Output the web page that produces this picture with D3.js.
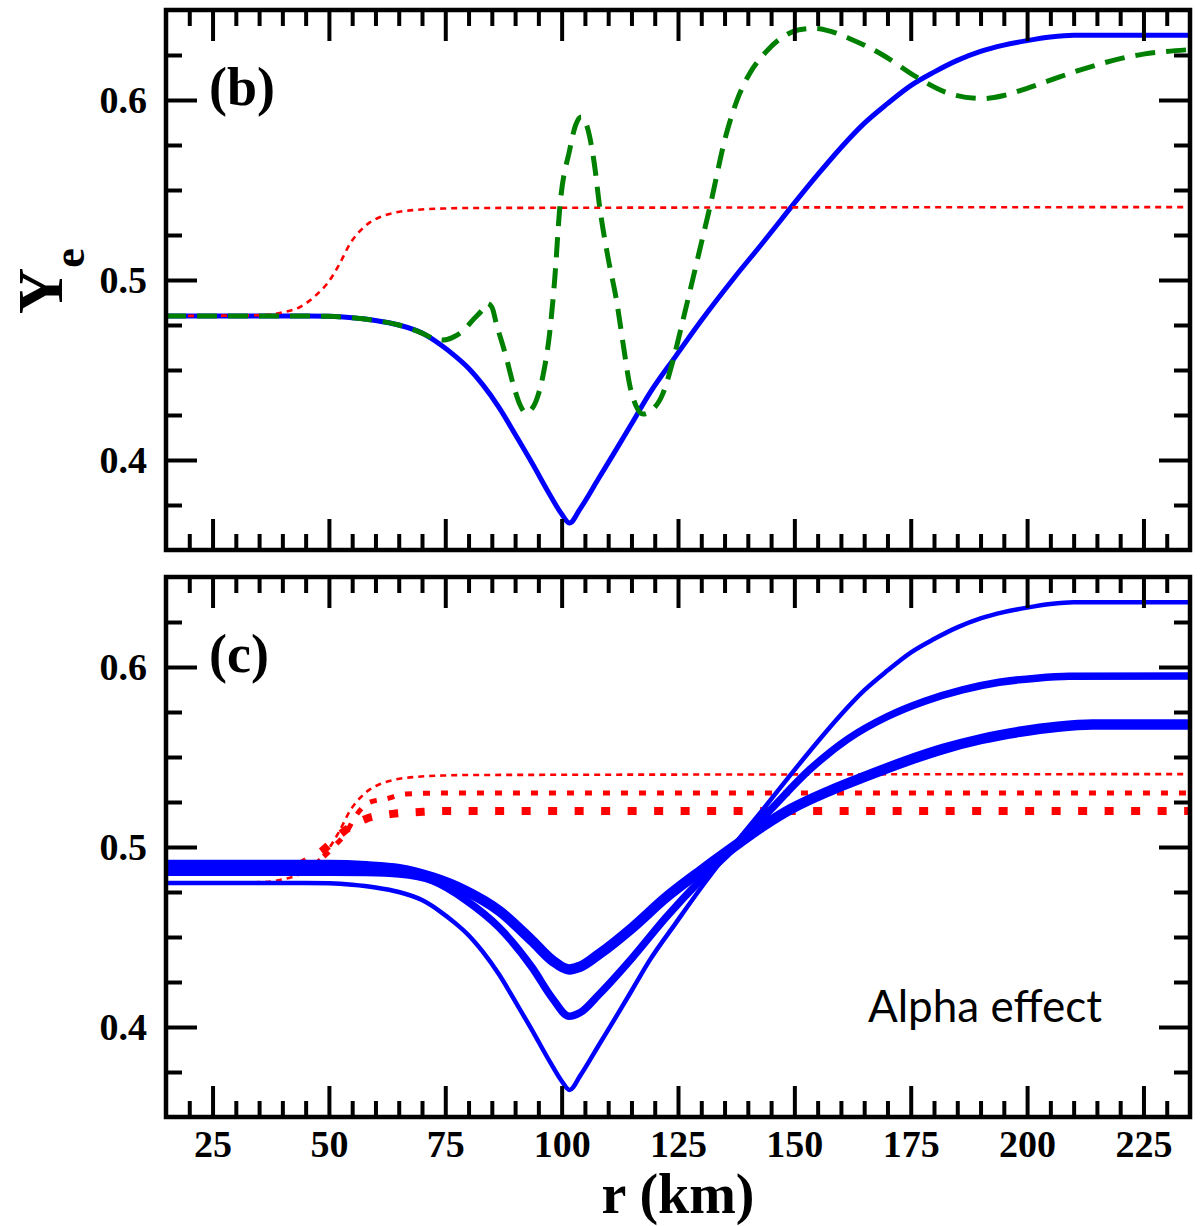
<!DOCTYPE html>
<html>
<head>
<meta charset="utf-8">
<script src="https://cdn.jsdelivr.net/npm/d3@7"></script>
<style>
  html, body { margin: 0; padding: 0; background: #fff; }
  svg { display: block; }
</style>
</head>
<body>
<svg id="chart" width="1201" height="1226"></svg>
<script>
// ---- data: electron fraction Ye versus radius r (km) ----
const rMajorTicks = [25, 50, 75, 100, 125, 150, 175, 200, 225];
const rMinorTicks = [20, 30, 35, 40, 45, 55, 60, 65, 70, 80, 85, 90, 95, 105, 110, 115, 120,
                     130, 135, 140, 145, 155, 160, 165, 170, 180, 185, 190, 195, 205, 210, 215, 220, 230];
const yeMajorTicks = [0.4, 0.5, 0.6];
const yeMinorTicks = [0.375, 0.425, 0.45, 0.475, 0.525, 0.55, 0.575, 0.625];

// solid blue curve (panel b, thinnest curve of panel c)
const yeSolid = [
  [15, 0.480], [45, 0.480], [50, 0.4798], [55, 0.4790], [60, 0.4775], [65, 0.4750], [70, 0.4705],
  [74, 0.4640], [77, 0.4580], [80, 0.4510], [83, 0.4420], [86.6, 0.4290], [90.3, 0.4130],
  [93.7, 0.3980], [97.4, 0.3810], [100, 0.3700], [101.7, 0.3650], [104, 0.3730], [108, 0.3900],
  [112, 0.4070], [115, 0.4200], [118.9, 0.4370], [124.6, 0.4580], [130, 0.4775], [137, 0.5010],
  [143, 0.5200], [149, 0.5395], [155, 0.5585], [160, 0.5735], [165, 0.5870], [170, 0.5980],
  [175, 0.6080], [180, 0.6155], [185, 0.6220], [190, 0.6270], [195, 0.6305], [200, 0.6330],
  [205, 0.6350], [210, 0.6360], [235, 0.6360]
];

// green dashed curve (panel b)
const yeDashed = [
  [15, 0.480], [45, 0.480], [50, 0.4798], [55, 0.4790], [60, 0.4775], [65, 0.4750], [70, 0.4705],
  [72.5, 0.4675], [74.5, 0.4666], [76.5, 0.4680], [78.8, 0.4717], [81, 0.4780], [83.1, 0.4838],
  [84, 0.4870], [85, 0.4850], [86, 0.4755], [88.1, 0.4570], [89.6, 0.4420], [91, 0.4310],
  [92.4, 0.4260], [93.5, 0.4280], [94.5, 0.4327], [96, 0.4470], [97.4, 0.4700], [98.5, 0.5000],
  [99.6, 0.5400], [101.7, 0.5720], [103, 0.5860], [104.2, 0.5906], [105.5, 0.5850], [107, 0.5650],
  [108.2, 0.5400], [110, 0.5120], [111.8, 0.4885], [113.3, 0.4630], [114.6, 0.4420], [116, 0.4300],
  [117.5, 0.4255], [119, 0.4270], [121.7, 0.4366], [124, 0.4560], [126, 0.4770], [129.6, 0.5160],
  [131.8, 0.5400], [135.4, 0.5813], [138, 0.6020], [140.4, 0.6147], [144, 0.6270], [147.5, 0.6350],
  [151, 0.6390], [154.7, 0.6398], [158, 0.6380], [161.8, 0.6342], [169, 0.6250], [176.2, 0.6128],
  [183.3, 0.6036], [190.5, 0.6008], [195, 0.6025], [200, 0.6065], [205, 0.6110], [210, 0.6155],
  [215, 0.6195], [220, 0.6230], [225, 0.6255], [230, 0.6270], [235, 0.6280]
];

// red dotted curve (panel b, thinnest dotted curve of panel c)
const yeDotted = [
  [15, 0.480], [36, 0.4805], [40, 0.4820], [43.8, 0.4850], [47, 0.4910], [50.2, 0.5000],
  [52.3, 0.5090], [54.5, 0.5200], [56.6, 0.5270], [58.8, 0.5320], [61, 0.5350], [64.5, 0.5376],
  [69, 0.5390], [74.5, 0.5397], [80, 0.5400], [235, 0.5405]
];

// panel c: medium and thick solid curves
const yeSolidMedium = [
  [15, 0.486], [50, 0.4860], [58, 0.4858], [65.1, 0.4850], [72.3, 0.4812], [79.4, 0.4705],
  [86.6, 0.4552], [93.7, 0.4329], [98, 0.4160], [101.6, 0.4060], [104, 0.4080], [108, 0.4180],
  [115.2, 0.4385], [122.4, 0.4608], [130, 0.4820], [138, 0.5020], [145, 0.5210], [153.3, 0.5430],
  [161.5, 0.5600], [170, 0.5725], [178, 0.5810], [186.1, 0.5873], [194, 0.5915], [202, 0.5938],
  [209, 0.5948], [235, 0.5950]
];
const yeSolidThick = [
  [15, 0.490], [50, 0.4900], [58, 0.4893], [65.1, 0.4877], [72.3, 0.4830], [79.4, 0.4756],
  [86.6, 0.4645], [93.7, 0.4478], [98, 0.4370], [101.6, 0.4320], [104, 0.4335], [108, 0.4404],
  [115.2, 0.4552], [122.4, 0.4719], [130, 0.4870], [138, 0.5020], [143.5, 0.5120], [149.2, 0.5210],
  [157.4, 0.5310], [165.6, 0.5395], [173.8, 0.5475], [182, 0.5545], [190.2, 0.5600], [198.4, 0.5640],
  [206.6, 0.5668], [214, 0.5680], [235, 0.5680]
];

// panel c: medium and thick dotted curves
const yeDottedMedium = [
  [15, 0.486], [40, 0.486], [45, 0.4880], [48.6, 0.4940], [51, 0.5000], [53.7, 0.5080],
  [55.8, 0.5174], [58.7, 0.5248], [62.2, 0.5267], [66.5, 0.5295], [75, 0.5300], [235, 0.5300]
];
const yeDottedThick = [
  [15, 0.490], [43, 0.490], [46, 0.4935], [48.6, 0.4980], [52.9, 0.5080], [55, 0.5120],
  [57.9, 0.5156], [63.7, 0.5184], [69.4, 0.5194], [75, 0.5200], [235, 0.5200]
];

// ---- layout ----
const svg = d3.select("#chart");
const plotLeft = 166, plotRight = 1190;
const serif = "'Liberation Serif', 'Times New Roman', serif";

const x = d3.scaleLinear().domain([15, 235]).range([plotLeft, plotRight]);

const panels = [
  {
    id: "b", top: 10, bottom: 550, label: "(b)", xLabels: false,
    series: [
      { data: yeSolid,  color: "#0000ff", width: 5,   dash: null },
      { data: yeDotted, color: "#ff0000", width: 2.6, dash: "6,5" },
      { data: yeDashed, color: "#008000", width: 5,   dash: "20,11" }
    ]
  },
  {
    id: "c", top: 577, bottom: 1117, label: "(c)", xLabels: true,
    series: [
      { data: yeDotted,       color: "#ff0000", width: 2.6,  dash: "6,5" },
      { data: yeDottedMedium, color: "#ff0000", width: 5,    dash: "7,11" },
      { data: yeDottedThick,  color: "#ff0000", width: 8,    dash: "9,17.5" },
      { data: yeSolid,        color: "#0000ff", width: 4.5,  dash: null },
      { data: yeSolidMedium,  color: "#0000ff", width: 7.5,  dash: null },
      { data: yeSolidThick,   color: "#0000ff", width: 10.5, dash: null }
    ]
  }
];

const majorLen = 31, minorLen = 16, tickWidth = 4;

panels.forEach(p => {
  const y = d3.scaleLinear().domain([0.35, 0.65]).range([p.bottom, p.top]);
  const g = svg.append("g").attr("class", "panel-" + p.id);

  g.append("clipPath").attr("id", "clip-" + p.id)
    .append("rect")
    .attr("x", plotLeft).attr("y", p.top)
    .attr("width", plotRight - plotLeft).attr("height", p.bottom - p.top);

  // curves
  const line = d3.line()
    .x(d => x(d[0]))
    .y(d => y(d[1]))
    .curve(d3.curveMonotoneX);

  const curves = g.append("g").attr("clip-path", "url(#clip-" + p.id + ")");
  p.series.forEach(s => {
    curves.append("path")
      .datum(s.data)
      .attr("d", line)
      .attr("fill", "none")
      .attr("stroke", s.color)
      .attr("stroke-width", s.width)
      .attr("stroke-dasharray", s.dash)
      .attr("stroke-linejoin", "round");
  });

  // inward ticks on all four sides
  const styleAxis = (sel, dy) => {
    sel.attr("font-family", null).attr("font-size", null);
    sel.select(".domain").remove();
    sel.selectAll(".tick line").attr("stroke", "#000").attr("stroke-width", tickWidth);
    const t = sel.selectAll(".tick text")
      .attr("fill", "#000")
      .style("font-family", serif)
      .style("font-weight", "bold")
      .style("font-size", "38px");
    if (dy) t.attr("dy", dy);
  };

  const bottomMajor = d3.axisBottom(x).tickValues(rMajorTicks).tickSize(-majorLen).tickPadding(13)
    .tickFormat(p.xLabels ? d3.format("d") : () => "");
  g.append("g").attr("transform", `translate(0,${p.bottom})`).call(bottomMajor).call(styleAxis);
  g.append("g").attr("transform", `translate(0,${p.bottom})`)
    .call(d3.axisBottom(x).tickValues(rMinorTicks).tickSize(-minorLen).tickFormat(() => ""))
    .call(styleAxis);
  g.append("g").attr("transform", `translate(0,${p.top})`)
    .call(d3.axisTop(x).tickValues(rMajorTicks).tickSize(-majorLen).tickFormat(() => ""))
    .call(styleAxis);
  g.append("g").attr("transform", `translate(0,${p.top})`)
    .call(d3.axisTop(x).tickValues(rMinorTicks).tickSize(-minorLen).tickFormat(() => ""))
    .call(styleAxis);

  g.append("g").attr("transform", `translate(${plotLeft},0)`)
    .call(d3.axisLeft(y).tickValues(yeMajorTicks).tickSize(-majorLen).tickPadding(19)
      .tickFormat(d3.format(".1f")))
    .call(styleAxis, "0.33em");
  g.append("g").attr("transform", `translate(${plotLeft},0)`)
    .call(d3.axisLeft(y).tickValues(yeMinorTicks).tickSize(-minorLen).tickFormat(() => ""))
    .call(styleAxis);
  g.append("g").attr("transform", `translate(${plotRight},0)`)
    .call(d3.axisRight(y).tickValues(yeMajorTicks).tickSize(-majorLen).tickFormat(() => ""))
    .call(styleAxis);
  g.append("g").attr("transform", `translate(${plotRight},0)`)
    .call(d3.axisRight(y).tickValues(yeMinorTicks).tickSize(-minorLen).tickFormat(() => ""))
    .call(styleAxis);

  // frame
  g.append("rect")
    .attr("x", plotLeft).attr("y", p.top)
    .attr("width", plotRight - plotLeft).attr("height", p.bottom - p.top)
    .attr("fill", "none").attr("stroke", "#000").attr("stroke-width", 4.5);

  // panel tag
  g.append("text")
    .attr("x", 209).attr("y", p.top + 95)
    .style("font-family", serif).style("font-weight", "bold").style("font-size", "54px")
    .text(p.label);
});

// y axis title: Y with subscript e
const yTitle = svg.append("text")
  .attr("transform", "translate(62,281) rotate(-90)")
  .attr("text-anchor", "middle")
  .style("font-family", serif).style("font-weight", "bold").style("font-size", "64px");
yTitle.append("tspan").text("Y");
yTitle.append("tspan").style("font-size", "44px").attr("dy", 22).text("e");

// x axis title
svg.append("text")
  .attr("x", (plotLeft + plotRight) / 2).attr("y", 1213)
  .attr("text-anchor", "middle")
  .style("font-family", serif).style("font-weight", "bold").style("font-size", "56px")
  .text("r (km)");

// annotation in panel c
svg.append("text")
  .attr("x", 868).attr("y", 1022)
  .style("font-family", "Lato, 'Open Sans', sans-serif").style("font-size", "44px")
  .attr("fill", "#000")
  .text("Alpha effect");
</script>
</body>
</html>
